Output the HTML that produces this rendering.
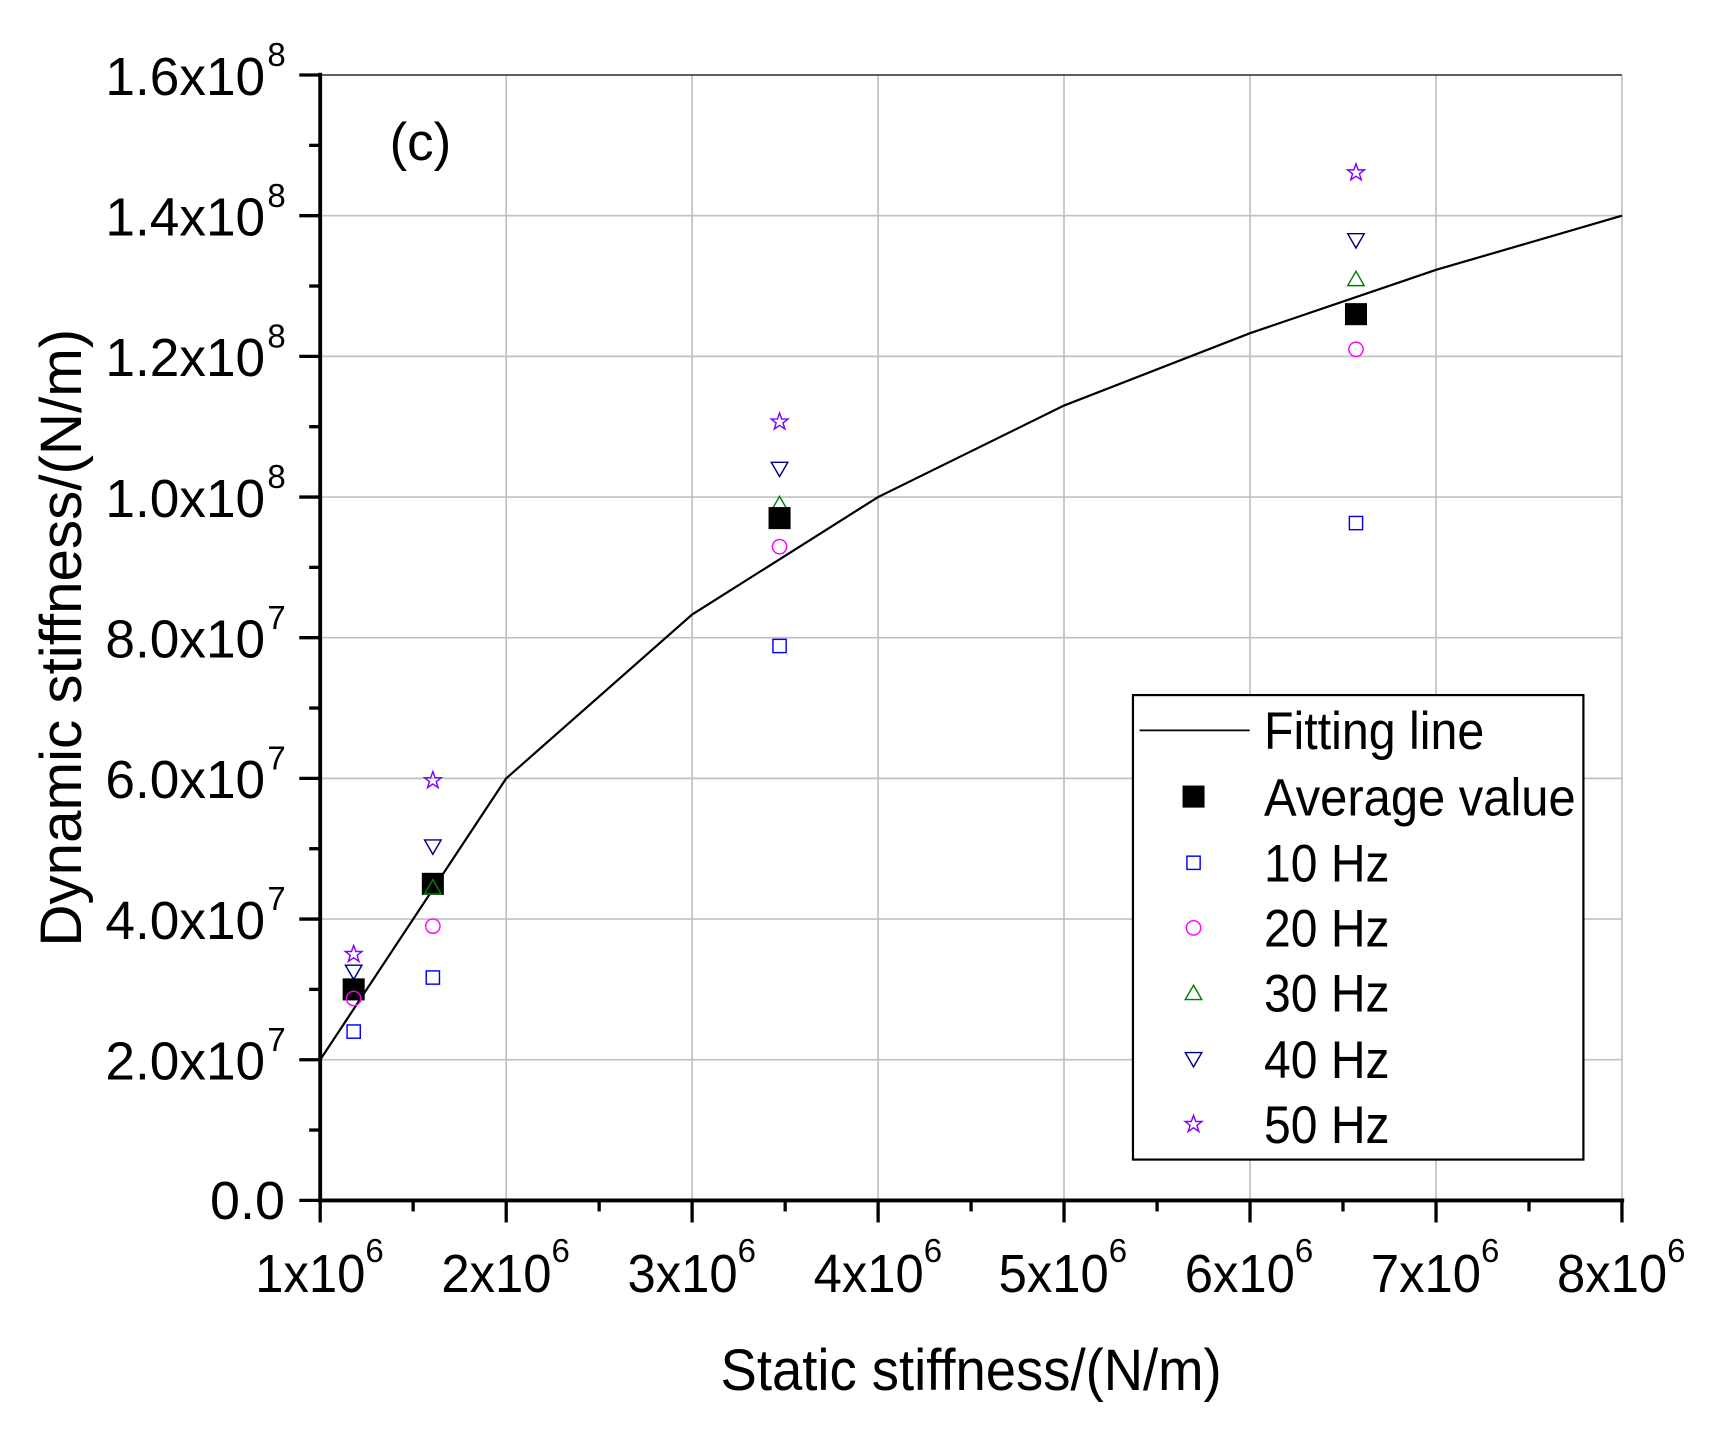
<!DOCTYPE html>
<html><head><meta charset="utf-8"><style>
html,body{margin:0;padding:0;background:#fff;}
svg{display:block;}
text{font-family:"Liberation Sans",Arial,sans-serif;fill:#000;}
</style></head><body>
<svg width="1726" height="1446" viewBox="0 0 1560 1307" preserveAspectRatio="none" xmlns="http://www.w3.org/2000/svg">
<defs>
<g id="sq"><rect x="-6" y="-6" width="12" height="12" fill="none" stroke="#0000ff" stroke-width="1.3"/></g>
<g id="ci"><circle r="6.5" fill="none" stroke="#ff00ff" stroke-width="1.3"/></g>
<g id="tu"><polygon points="0,-7 7.5,6 -7.5,6" fill="none" stroke="#008000" stroke-width="1.3"/></g>
<g id="td"><polygon points="0,7 7.5,-6 -7.5,-6" fill="none" stroke="#000080" stroke-width="1.3"/></g>
<g id="st"><polygon points="0,-8 2,-2.5 7.6,-2.5 3.1,1 4.8,6.5 0,3.2 -4.8,6.5 -3.1,1 -7.6,-2.5 -2,-2.5" fill="none" stroke="#8000ff" stroke-width="1.3"/></g>
<g id="av"><rect x="-10" y="-10" width="20" height="20" fill="#000"/></g>
</defs>
<g transform="translate(0.73,-2) scale(0.9954,0.99725)">
<!-- grid -->
<g stroke="#c0c0c0" stroke-width="1.5">
<line x1="458.9" y1="70" x2="458.9" y2="1090"/><line x1="627.7" y1="70" x2="627.7" y2="1090"/>
<line x1="796.6" y1="70" x2="796.6" y2="1090"/><line x1="965.4" y1="70" x2="965.4" y2="1090"/>
<line x1="1134.3" y1="70" x2="1134.3" y2="1090"/><line x1="1303.2" y1="70" x2="1303.2" y2="1090"/>
<line x1="1472" y1="70" x2="1472" y2="1090"/>
<line x1="290" y1="962.5" x2="1472" y2="962.5"/><line x1="290" y1="835" x2="1472" y2="835"/>
<line x1="290" y1="707.5" x2="1472" y2="707.5"/><line x1="290" y1="580" x2="1472" y2="580"/>
<line x1="290" y1="452.5" x2="1472" y2="452.5"/><line x1="290" y1="325" x2="1472" y2="325"/>
<line x1="290" y1="197.5" x2="1472" y2="197.5"/>
</g>
<line x1="290" y1="70" x2="1472" y2="70" stroke="#000" stroke-width="1.2"/>
<!-- axes -->
<g stroke="#000" stroke-width="3.5">
<line x1="290" y1="68" x2="290" y2="1092"/>
<line x1="288" y1="1090" x2="1474" y2="1090"/>
</g>
<g stroke="#000" stroke-width="3">
<line x1="271" y1="70" x2="290" y2="70"/><line x1="271" y1="197.5" x2="290" y2="197.5"/>
<line x1="271" y1="325" x2="290" y2="325"/><line x1="271" y1="452.5" x2="290" y2="452.5"/>
<line x1="271" y1="580" x2="290" y2="580"/><line x1="271" y1="707.5" x2="290" y2="707.5"/>
<line x1="271" y1="835" x2="290" y2="835"/><line x1="271" y1="962.5" x2="290" y2="962.5"/>
<line x1="271" y1="1090" x2="290" y2="1090"/>
<line x1="280" y1="133.75" x2="290" y2="133.75"/><line x1="280" y1="261.25" x2="290" y2="261.25"/>
<line x1="280" y1="388.75" x2="290" y2="388.75"/><line x1="280" y1="516.25" x2="290" y2="516.25"/>
<line x1="280" y1="643.75" x2="290" y2="643.75"/><line x1="280" y1="771.25" x2="290" y2="771.25"/>
<line x1="280" y1="898.75" x2="290" y2="898.75"/><line x1="280" y1="1026.25" x2="290" y2="1026.25"/>
<line x1="290" y1="1090" x2="290" y2="1110"/><line x1="458.9" y1="1090" x2="458.9" y2="1110"/>
<line x1="627.7" y1="1090" x2="627.7" y2="1110"/><line x1="796.6" y1="1090" x2="796.6" y2="1110"/>
<line x1="965.4" y1="1090" x2="965.4" y2="1110"/><line x1="1134.3" y1="1090" x2="1134.3" y2="1110"/>
<line x1="1303.2" y1="1090" x2="1303.2" y2="1110"/><line x1="1472" y1="1090" x2="1472" y2="1110"/>
<line x1="374.4" y1="1090" x2="374.4" y2="1100"/><line x1="543.3" y1="1090" x2="543.3" y2="1100"/>
<line x1="712.2" y1="1090" x2="712.2" y2="1100"/><line x1="881" y1="1090" x2="881" y2="1100"/>
<line x1="1049.9" y1="1090" x2="1049.9" y2="1100"/><line x1="1218.7" y1="1090" x2="1218.7" y2="1100"/>
<line x1="1387.6" y1="1090" x2="1387.6" y2="1100"/>
</g>
<!-- y labels -->
<g font-size="49" text-anchor="end">
<text x="240" y="88" textLength="145" lengthAdjust="spacingAndGlyphs">1.6x10</text><text x="240" y="215.5" textLength="145" lengthAdjust="spacingAndGlyphs">1.4x10</text>
<text x="240" y="343" textLength="145" lengthAdjust="spacingAndGlyphs">1.2x10</text><text x="240" y="470.5" textLength="145" lengthAdjust="spacingAndGlyphs">1.0x10</text>
<text x="240" y="598" textLength="145" lengthAdjust="spacingAndGlyphs">8.0x10</text><text x="240" y="725.5" textLength="145" lengthAdjust="spacingAndGlyphs">6.0x10</text>
<text x="240" y="853" textLength="145" lengthAdjust="spacingAndGlyphs">4.0x10</text><text x="240" y="980.5" textLength="145" lengthAdjust="spacingAndGlyphs">2.0x10</text>
<text x="258" y="1107" textLength="68" lengthAdjust="spacingAndGlyphs">0.0</text>
</g>
<g font-size="30">
<text x="242" y="62">8</text><text x="242" y="189.5">8</text><text x="242" y="317">8</text>
<text x="242" y="444.5">8</text><text x="242" y="572">7</text><text x="242" y="699.5">7</text>
<text x="242" y="827">7</text><text x="242" y="954.5">7</text>
</g>
<!-- x labels -->
<g font-size="49" text-anchor="middle">
<text x="281" y="1173" textLength="100" lengthAdjust="spacingAndGlyphs">1x10</text><text x="450" y="1173" textLength="100" lengthAdjust="spacingAndGlyphs">2x10</text><text x="619" y="1173" textLength="100" lengthAdjust="spacingAndGlyphs">3x10</text>
<text x="788" y="1173" textLength="100" lengthAdjust="spacingAndGlyphs">4x10</text><text x="956" y="1173" textLength="100" lengthAdjust="spacingAndGlyphs">5x10</text><text x="1125" y="1173" textLength="100" lengthAdjust="spacingAndGlyphs">6x10</text>
<text x="1294" y="1173" textLength="100" lengthAdjust="spacingAndGlyphs">7x10</text><text x="1463" y="1173" textLength="100" lengthAdjust="spacingAndGlyphs">8x10</text>
</g>
<g font-size="30">
<text x="331" y="1146">6</text><text x="500" y="1146">6</text><text x="669" y="1146">6</text>
<text x="838" y="1146">6</text><text x="1006" y="1146">6</text><text x="1175" y="1146">6</text>
<text x="1344" y="1146">6</text><text x="1513" y="1146">6</text>
</g>
<text x="881" y="1262" font-size="53" text-anchor="middle" textLength="455" lengthAdjust="spacingAndGlyphs">Static stiffness/(N/m)</text>
<text transform="translate(73,580) rotate(-90)" font-size="53" text-anchor="middle" textLength="560" lengthAdjust="spacingAndGlyphs">Dynamic stiffness/(N/m)</text>
<text x="353" y="147" font-size="48" textLength="56" lengthAdjust="spacingAndGlyphs">(c)</text>
<!-- fit line -->
<polyline fill="none" stroke="#000" stroke-width="2" points="290,962.5 458.9,707.5 627.7,559 796.6,452.5 965.4,369.6 1134.3,304 1303.2,246.6 1472,197.5"/>
<!-- points -->
<use href="#sq" x="320.4" y="937"/><use href="#tu" x="320.4" y="895.6"/><use href="#td" x="320.4" y="882.8"/><use href="#st" x="320.4" y="866.9"/>
<use href="#av" x="320.4" y="898.75"/>
<use href="#ci" x="320.4" y="907"/>
<use href="#sq" x="392.3" y="888"/><use href="#ci" x="392.3" y="841.4"/><use href="#av" x="392.3" y="803.1"/><use href="#tu" x="392.3" y="806.3"/><use href="#td" x="392.3" y="769.3"/><use href="#st" x="392.3" y="709.4"/>
<use href="#sq" x="707.1" y="587.5"/><use href="#ci" x="707.1" y="497.5"/><use href="#tu" x="707.1" y="458.9"/><use href="#av" x="707.1" y="471.6"/><use href="#td" x="707.1" y="427"/><use href="#st" x="707.1" y="384.3"/>
<use href="#sq" x="1230.5" y="476.1"/><use href="#ci" x="1230.5" y="318.6"/><use href="#av" x="1230.5" y="286.75"/><use href="#tu" x="1230.5" y="254.9"/><use href="#td" x="1230.5" y="219.8"/><use href="#st" x="1230.5" y="158.5"/>
<!-- legend -->
<rect x="1028" y="632" width="409" height="421" fill="#fff" stroke="#000" stroke-width="2"/>
<line x1="1034" y1="664" x2="1134" y2="664" stroke="#000" stroke-width="1.5"/>
<use href="#av" x="1083" y="724"/>
<use href="#sq" x="1083" y="784"/>
<use href="#ci" x="1083" y="843"/>
<use href="#tu" x="1083" y="902"/>
<use href="#td" x="1083" y="962"/>
<use href="#st" x="1083" y="1021"/>
<g font-size="48">
<text x="1147" y="681" textLength="200" lengthAdjust="spacingAndGlyphs">Fitting line</text>
<text x="1147" y="741" textLength="283" lengthAdjust="spacingAndGlyphs">Average value</text>
<text x="1147" y="801" textLength="114" lengthAdjust="spacingAndGlyphs">10 Hz</text>
<text x="1147" y="860" textLength="114" lengthAdjust="spacingAndGlyphs">20 Hz</text>
<text x="1147" y="919" textLength="114" lengthAdjust="spacingAndGlyphs">30 Hz</text>
<text x="1147" y="979" textLength="114" lengthAdjust="spacingAndGlyphs">40 Hz</text>
<text x="1147" y="1038" textLength="114" lengthAdjust="spacingAndGlyphs">50 Hz</text>
</g>
</g>
</svg>
</body></html>
